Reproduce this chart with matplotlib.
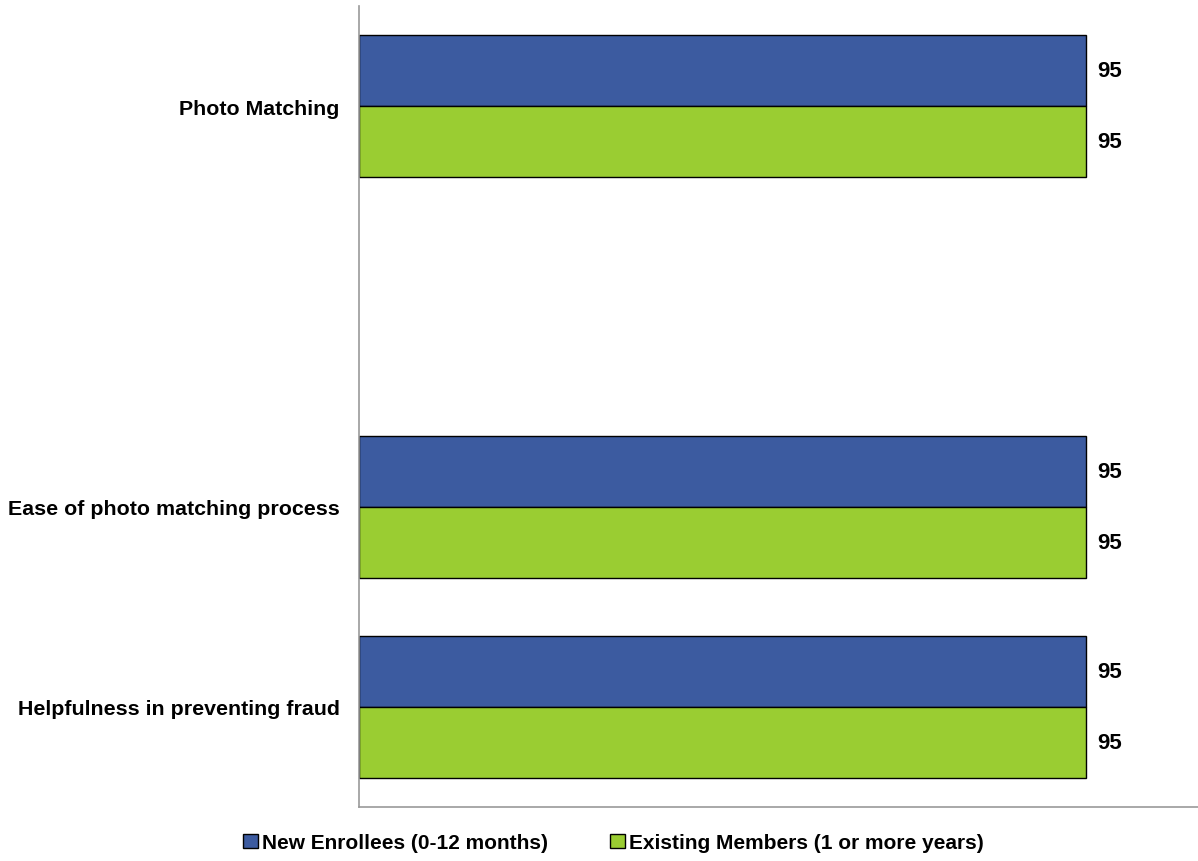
import numpy as np
import matplotlib.pyplot as plt

categories = ['Photo Matching', '', 'Ease of photo matching process', 'Helpfulness in preventing fraud']
new_enrollees = [95, np.nan, 95, 95]
existing_members = [95, np.nan, 95, 95]
series_names = ['New Enrollees (0-12 months)', 'Existing Members (1 or more years)']

plt.rcParams['font.family'] = ['Liberation Sans', 'DejaVu Sans']
plt.rcParams['font.weight'] = 'bold'

fig = plt.figure(figsize=(11.98, 8.62), dpi=100)
ax = fig.add_axes([0.2997, 0.0626, 0.7003, 0.9293])

y = np.arange(len(categories))
h = 0.355
b1 = ax.barh(y - h / 2, new_enrollees, height=h, color='#3C5BA0', edgecolor='black', linewidth=1, label=series_names[0])
b2 = ax.barh(y + h / 2, existing_members, height=h, color='#9ACD32', edgecolor='black', linewidth=1, label=series_names[1])

for bars, vals in [(b1, new_enrollees), (b2, existing_members)]:
    for bar, v in zip(bars, vals):
        if np.isnan(v):
            continue
        ax.text(v + 1.4, bar.get_y() + bar.get_height() / 2, f'{v:.0f}',
                va='center', ha='left', fontsize=16, fontweight='bold')

ax.set_ylim(len(categories) - 0.5, -0.5)
ax.set_xlim(0, 109.6)
ax.set_yticks(y)
ax.set_yticklabels(categories, fontsize=15.4, fontweight='bold')
ax.tick_params(axis='y', length=0, pad=14)
ax.set_xticks([])
for s in ['top', 'right']:
    ax.spines[s].set_visible(False)
for s in ['left', 'bottom']:
    ax.spines[s].set_color('#999999')
    ax.spines[s].set_linewidth(1.2)

fig.legend(handles=[b1, b2], loc='center', bbox_to_anchor=(0.512, 0.021), ncol=2,
           frameon=False, fontsize=15, handlelength=0.7, handleheight=0.7,
           handletextpad=0.2, columnspacing=3.0)

fig.savefig('out.png', dpi=100)
